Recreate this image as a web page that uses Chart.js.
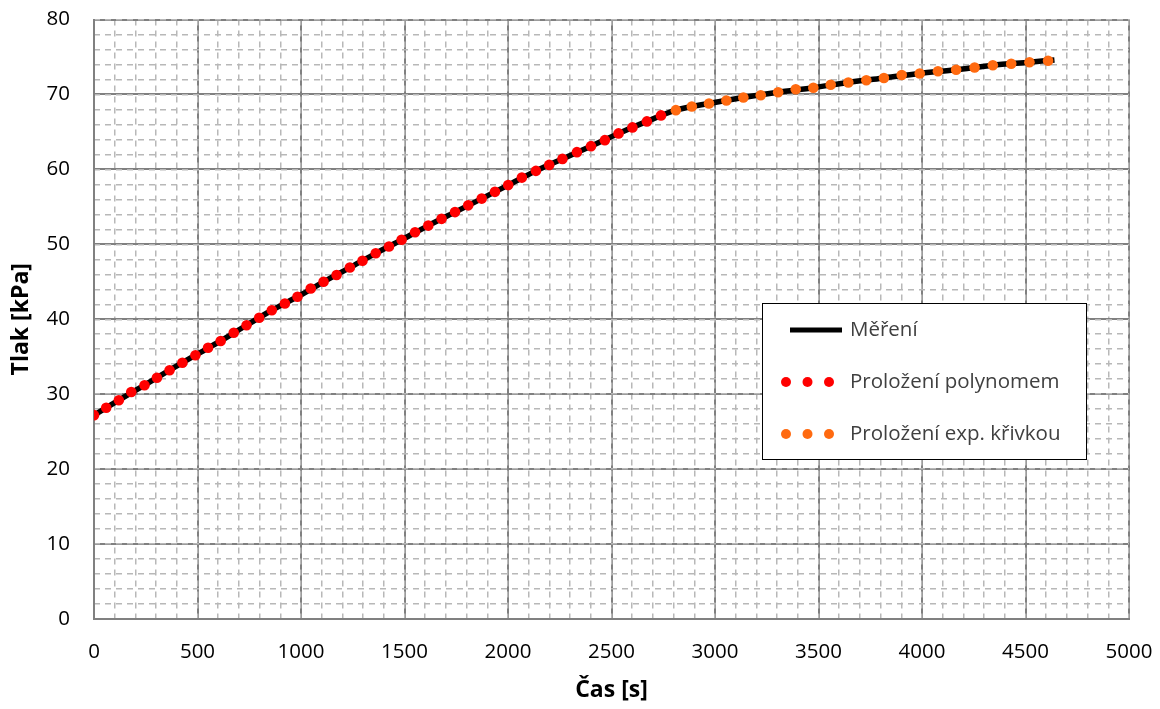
<!DOCTYPE html>
<html>
<head>
<meta charset="utf-8">
<script src="https://cdn.jsdelivr.net/npm/chart.js@4/dist/chart.umd.min.js"></script>
<style>
  html, body { margin: 0; padding: 0; background: #fff; }
  #wrap { width: 1160px; height: 709px; }
</style>
</head>
<body>
<div id="wrap"><canvas id="myChart" width="1160" height="709"></canvas></div>
<script>
// Proložení polynomem (čas [s], tlak [kPa])
const polyTime = [0, 59, 120, 180, 244, 304, 365, 427, 490, 551, 612, 675, 737, 798, 859, 922, 983, 1047, 1109, 1172, 1236, 1297, 1361, 1425, 1486, 1551, 1615, 1679, 1744, 1808, 1873, 1937, 2001, 2067, 2135, 2199, 2263, 2333, 2401, 2468, 2534, 2601, 2671, 2739];
const polyPressure = [27.2, 28.2, 29.2, 30.3, 31.2, 32.2, 33.2, 34.2, 35.2, 36.2, 37.1, 38.2, 39.2, 40.2, 41.2, 42.1, 43.0, 44.1, 45.0, 45.9, 46.9, 47.8, 48.8, 49.7, 50.6, 51.6, 52.5, 53.4, 54.3, 55.2, 56.1, 57.0, 57.9, 58.9, 59.8, 60.6, 61.4, 62.3, 63.1, 63.9, 64.8, 65.6, 66.4, 67.2];

// Proložení exp. křivkou
const expTime = [2811, 2888, 2971, 3055, 3137, 3221, 3305, 3390, 3475, 3559, 3644, 3731, 3816, 3902, 3989, 4077, 4165, 4254, 4342, 4431, 4519, 4609];
const expPressure = [67.9, 68.4, 68.8, 69.2, 69.6, 69.9, 70.3, 70.7, 70.9, 71.3, 71.6, 71.9, 72.2, 72.6, 72.8, 73.1, 73.3, 73.6, 73.9, 74.1, 74.3, 74.5];

// Měření
const measTime = [0, 120, 244, 365, 490, 612, 737, 859, 983, 1109, 1236, 1361, 1486, 1615, 1744, 1873, 2001, 2135, 2263, 2401, 2534, 2671, 2811, 2971, 3137, 3305, 3475, 3644, 3816, 3989, 4165, 4342, 4519, 4640];
const measPressure = [27.2, 29.2, 31.2, 33.2, 35.2, 37.1, 39.2, 41.2, 43.0, 45.0, 46.9, 48.8, 50.6, 52.5, 54.3, 56.1, 57.9, 59.8, 61.4, 63.1, 64.8, 66.4, 67.9, 68.8, 69.6, 70.3, 70.9, 71.6, 72.2, 72.8, 73.3, 73.9, 74.3, 74.6];

const xMin = 0, xMax = 5000, xStep = 500, xMinorStep = 100;
const yMin = 0, yMax = 80, yStep = 10, yMinorStep = 2;

const toXY = (xs, ys) => xs.map((x, i) => ({ x: x, y: ys[i] }));

const fontFamily = '"Open Sans", "Liberation Sans", sans-serif';

// legenda v rámečku, body kreslené třikrát vedle sebe
const boxLegend = {
  id: 'boxLegend',
  afterDraw(chart) {
    const c = chart.ctx;
    const bx = 762, by = 303, bw = 324, bh = 156;
    c.save();
    c.fillStyle = '#fff';
    c.fillRect(bx, by, bw, bh);
    c.strokeStyle = '#000';
    c.lineWidth = 1;
    c.strokeRect(bx + 0.5, by + 0.5, bw, bh);
    c.font = '20.5px ' + fontFamily;
    c.textBaseline = 'middle';
    chart.data.datasets.forEach((ds, i) => {
      const cy = by + 27 + i * 52;
      if (ds.showLine) {
        c.strokeStyle = ds.borderColor;
        c.lineWidth = 5;
        c.beginPath();
        c.moveTo(790, cy);
        c.lineTo(842, cy);
        c.stroke();
      } else {
        c.fillStyle = ds.pointBackgroundColor;
        [786, 807.5, 829].forEach(px => {
          c.beginPath();
          c.arc(px, cy, 5, 0, Math.PI * 2);
          c.fill();
        });
      }
      c.fillStyle = '#404040';
      c.fillText(ds.label, 850, cy);
    });
    c.restore();
  }
};

const ctx = document.getElementById('myChart').getContext('2d');

const myChart = new Chart(ctx, {
  type: 'scatter',
  data: {
    datasets: [{
      label: 'Měření',
      data: toXY(measTime, measPressure),
      showLine: true,
      borderColor: '#000000',
      borderWidth: 5.5,
      pointRadius: 0,
      tension: 0.3,
      order: 3
    }, {
      label: 'Proložení polynomem',
      data: toXY(polyTime, polyPressure),
      showLine: false,
      pointRadius: 5.3,
      pointBackgroundColor: '#ff0000',
      pointBorderWidth: 0,
      order: 2
    }, {
      label: 'Proložení exp. křivkou',
      data: toXY(expTime, expPressure),
      showLine: false,
      pointRadius: 5.3,
      pointBackgroundColor: '#ff6a10',
      pointBorderWidth: 0,
      order: 1
    }]
  },
  options: {
    responsive: false,
    animation: false,
    layout: { padding: { left: 0, right: 31, top: 19.5, bottom: 0 } },
    plugins: {
      legend: { display: false },
      tooltip: { enabled: false }
    },
    scales: {
      x: {
        type: 'linear',
        min: xMin, max: xMax,
        z: 0,
        afterFit: s => { s.height = 90; s.paddingLeft = 0; s.paddingRight = 0; },
        ticks: {
          stepSize: xStep,
          padding: 21,
          color: '#000',
          font: { family: fontFamily, size: 20.5 },
          callback: v => String(v)
        },
        grid: { color: '#808080', lineWidth: 2, drawTicks: false },
        border: { color: '#808080', width: 2 },
        title: {
          display: true,
          text: 'Čas [s]',
          color: '#000',
          font: { family: fontFamily, size: 23, weight: 'bold' },
          padding: { top: 4, bottom: 5 }
        }
      },
      xMinor: {
        type: 'linear',
        position: 'bottom',
        min: xMin, max: xMax,
        z: -1,
        afterFit: s => { s.height = 0; s.paddingLeft = 0; s.paddingRight = 0; },
        ticks: { display: false, stepSize: xMinorStep },
        grid: { color: '#b8b8b8', lineWidth: 1.5, drawTicks: false, tickLength: 0 },
        border: { display: false, dash: [6, 5] }
      },
      y: {
        type: 'linear',
        min: yMin, max: yMax,
        z: 0,
        afterFit: s => { s.width = 94; s.paddingTop = 0; s.paddingBottom = 0; },
        ticks: {
          stepSize: yStep,
          padding: 24,
          color: '#000',
          font: { family: fontFamily, size: 20.5 },
          callback: v => String(v)
        },
        grid: { color: '#808080', lineWidth: 2, drawTicks: false },
        border: { color: '#808080', width: 2 },
        title: {
          display: true,
          text: 'Tlak [kPa]',
          color: '#000',
          font: { family: fontFamily, size: 23, weight: 'bold' },
          padding: { top: 8, bottom: 0 }
        }
      },
      yMinor: {
        type: 'linear',
        position: 'left',
        min: yMin, max: yMax,
        z: -1,
        afterFit: s => { s.width = 0; s.paddingTop = 0; s.paddingBottom = 0; },
        ticks: { display: false, stepSize: yMinorStep },
        grid: { color: '#b8b8b8', lineWidth: 1.5, drawTicks: false, tickLength: 0 },
        border: { display: false, dash: [6, 5] }
      }
    }
  },
  plugins: [boxLegend]
});
</script>
</body>
</html>
